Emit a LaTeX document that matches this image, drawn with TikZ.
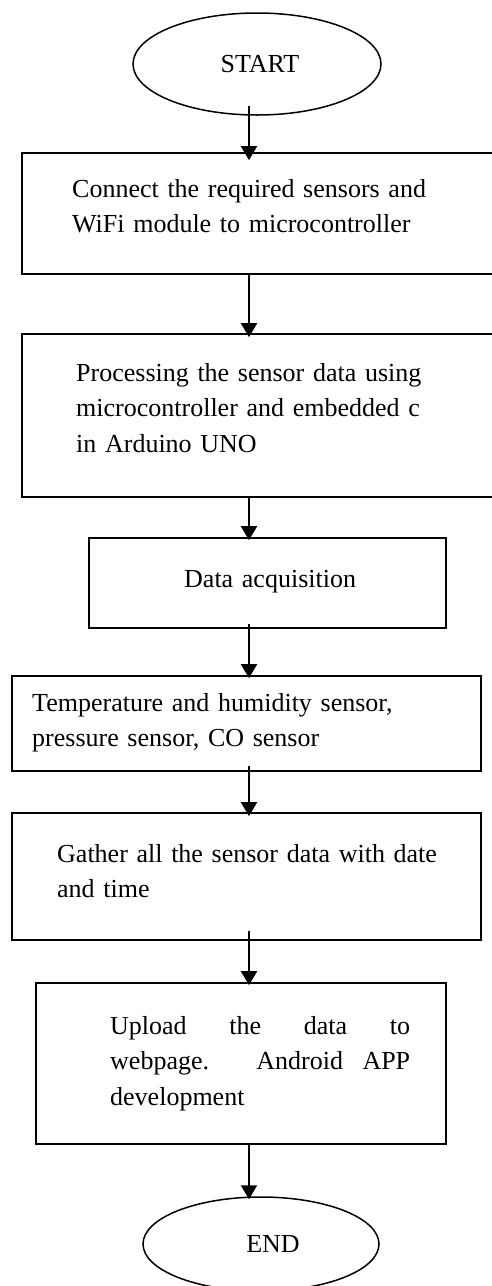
\documentclass[tikz,border=0pt]{standalone}
\usepackage{fontspec}
\setmainfont{Liberation Serif}
\usetikzlibrary{calc,shapes.geometric,arrows.meta}
\begin{document}
\begin{tikzpicture}[x=1pt,y=-1pt,
  box/.style={draw,line width=1.7pt,rectangle,inner sep=0pt},
  oval/.style={draw,line width=1.5pt,ellipse,inner sep=0pt,font=\fontsize{26}{30}\selectfont},
  txt/.style={inner sep=0pt,anchor=base west,text width=440pt,align=left,font=\fontsize{26}{35.5}\selectfont},
  arr/.style={line width=2pt,-{Triangle[length=14pt,width=16pt]}}]
\useasboundingbox (0,0) rectangle (492,1286);
\coordinate (ax) at (249,0);
% shapes
\node[oval,minimum width=248pt,minimum height=102pt] (start) at (257,64) {\hspace*{6pt}START};
\node[box,minimum width=478pt,minimum height=121pt] (b1) at (261,213.5) {};
\node[box,minimum width=478pt,minimum height=163pt] (b2) at (261,415.5) {};
\node[box,minimum width=357pt,minimum height=90pt] (b3) at (267.5,583) {};
\node[box,minimum width=469pt,minimum height=95pt] (b4) at (246.5,723.5) {};
\node[box,minimum width=469pt,minimum height=127pt] (b5) at (246.5,876.5) {};
\node[box,minimum width=410pt,minimum height=161pt] (b6) at (241,1063.5) {};
\node[oval,minimum width=236pt,minimum height=94pt] (end) at (261,1244) {\hspace*{24pt}END};
% texts
\node[txt] (t1) at (72,197) {Connect the required sensors and\\WiFi module to microcontroller};
\node[txt] (t2) at (76,381) {Processing the sensor data using\\microcontroller and embedded c\\in Arduino UNO};
\node[txt] (t3) at (184,587) {Data acquisition};
\node[txt] (t4) at (32,711) {Temperature and humidity sensor,\\pressure sensor, CO sensor};
\node[txt] (t5) at (57,862) {Gather all the sensor data with date\\and time};
\node[txt,text width=300pt,align=justify] (t6) at (110,1034) {Upload the data to\linebreak webpage. Android APP\linebreak development};
% connectors
\draw[arr] ($(start.south -| ax)+(0,-10)$) -- ($(b1.north -| ax)+(0,8)$);
\draw[arr] (b1.south -| ax) -- ($(b2.north -| ax)+(0,4)$);
\draw[arr] ($(b2.south -| ax)+(0,-2)$) -- ($(b3.north -| ax)+(0,3)$);
\draw[arr] ($(b3.south -| ax)+(0,-5)$) -- ($(b4.north -| ax)+(0,3)$);
\draw[arr] ($(b4.south -| ax)+(0,-6)$) -- ($(b5.north -| ax)+(0,4)$);
\draw[arr] ($(b5.south -| ax)+(0,-10)$) -- ($(b6.north -| ax)+(0,3)$);
\draw[arr] (b6.south -| ax) -- ($(end.north -| ax)+(0,3)$);
\end{tikzpicture}
\end{document}
